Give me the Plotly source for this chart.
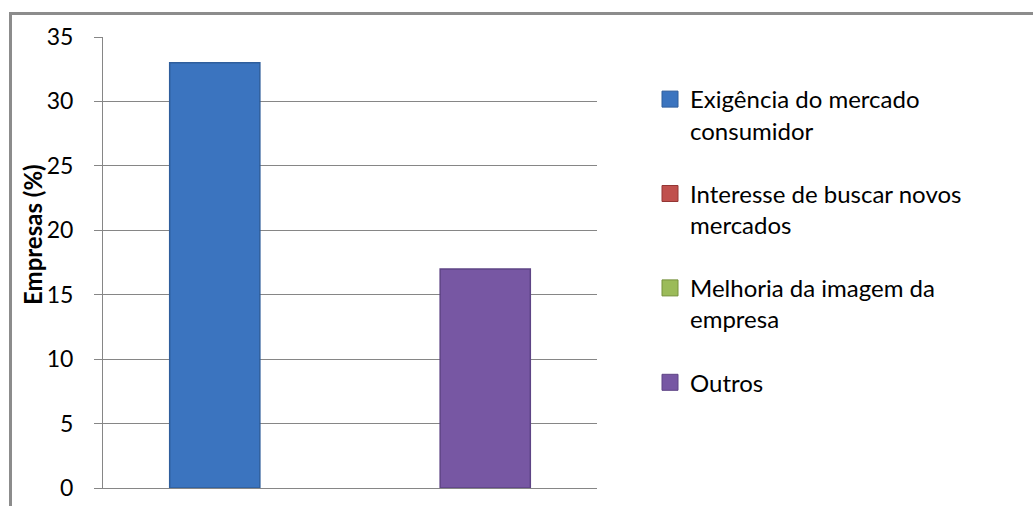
import plotly.graph_objects as go

categories = ["Motivo"]
series_names = ["Exigência do mercado<br>consumidor",
                "Interesse de buscar novos<br>mercados",
                "Melhoria da imagem da<br>empresa",
                "Outros"]
series_values = [33, 0, 0, 17]
series_colors = ["#3B74BF", "#C0504D", "#9BBB59", "#7757A3"]
series_edges = ["#2F5E9C", "#943634", "#76923C", "#5E4485"]
y_ticks = [0, 5, 10, 15, 20, 25, 30, 35]
y_title = "Empresas (%)"

FONT = "Lato"
W, H = 1033, 506
L, R, T, B = 103, 597, 37, 488

fig = go.Figure()
for name, val, col, edge in zip(series_names, series_values, series_colors, series_edges):
    fig.add_trace(go.Bar(
        x=categories, y=[val], name=name,
        marker=dict(color=col, line=dict(color=edge, width=1.5 if val else 0)),
        legendgroup=name, showlegend=False,
    ))
# legend entries (larger square swatches, like the original)
for name, col, edge in zip(series_names, series_colors, series_edges):
    fig.add_trace(go.Scatter(
        x=[None], y=[None], mode="markers", name=name, legendgroup=name,
        marker=dict(symbol="square", size=16, color=col,
                    line=dict(color=edge, width=1)),
        showlegend=True,
    ))

def px(x):
    return (x - L) / (R - L)

def py(y):
    return (B - y) / (B - T)

fig.update_layout(
    width=W, height=H,
    margin=dict(l=L, r=W - R, t=T, b=H - B, pad=0, autoexpand=False),
    paper_bgcolor="white", plot_bgcolor="white",
    barmode="group", bargap=0.27, bargroupgap=0,
    font=dict(family=FONT, size=24, color="black"),
    showlegend=True,
    legend=dict(x=px(650), y=py(77), xanchor="left", yanchor="top",
                valign="top", tracegroupgap=29, itemsizing="trace",
                font=dict(family=FONT, size=24, color="black"),
                bgcolor="rgba(0,0,0,0)"),
    xaxis=dict(showticklabels=False, showgrid=False, showline=True,
               linecolor="#868686", linewidth=1, ticks="", zeroline=False,
               layer="above traces", automargin=False),
    yaxis=dict(range=[0, 35], tickvals=y_ticks, showgrid=True,
               gridcolor="#868686", gridwidth=1, showline=True,
               linecolor="#868686", linewidth=1, ticks="outside",
               ticklen=8, tickcolor="#868686", zeroline=False,
               ticklabelstandoff=16, automargin=False,
               tickfont=dict(family=FONT, size=23, color="black")),
    annotations=[dict(text="<b>" + y_title + "</b>", xref="paper", yref="paper",
                      x=px(33), y=py(235), xanchor="center", yanchor="middle",
                      textangle=-90, showarrow=False,
                      font=dict(family=FONT, size=24, color="black"))],
    shapes=[dict(type="rect", xref="paper", yref="paper",
                 x0=px(10.5), y0=py(560), x1=px(1100), y1=py(13.5),
                 line=dict(color="#8C8C8C", width=3), layer="below")],
)

fig.write_html("out.html")
